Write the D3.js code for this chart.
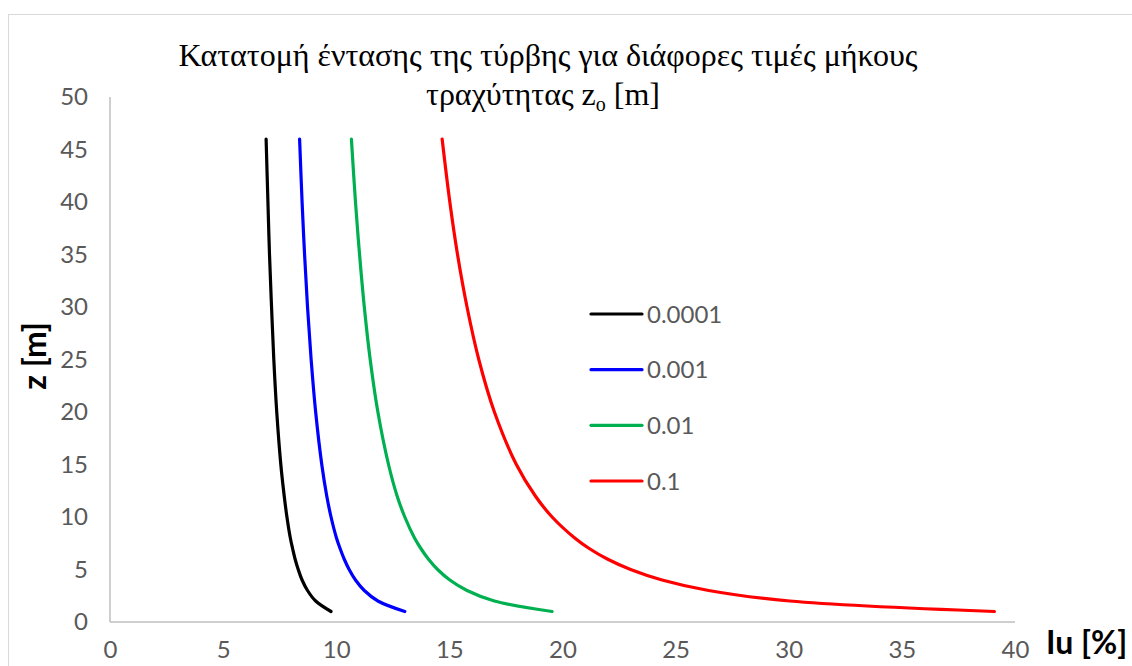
<!DOCTYPE html>
<html><head><meta charset="utf-8">
<script src="https://cdn.jsdelivr.net/npm/d3@7"></script>
<style>body{margin:0;background:#fff;}svg{display:block;}</style>
</head><body>
<svg id="chart" width="1132" height="666"></svg>
<script>
const heights = [1,2,3,4,5,6,7,8,10,12,15,20,25,30,35,40,46];
const iu00001 = [9.77,9.09,8.73,8.49,8.32,8.18,8.07,7.97,7.82,7.70,7.55,7.37,7.24,7.14,7.05,6.98,6.90];
const iu0001  = [13.03,11.84,11.24,10.85,10.57,10.35,10.17,10.01,9.77,9.58,9.36,9.09,8.89,8.73,8.60,8.49,8.38];
const iu001   = [19.54,16.99,15.78,15.02,14.48,14.07,13.74,13.46,13.03,12.69,12.31,11.84,11.50,11.24,11.03,10.85,10.67];
const iu01    = [39.09,30.04,26.46,24.40,23.01,21.98,21.18,20.54,19.54,18.80,17.96,16.99,16.30,15.78,15.36,15.02,14.68];
const seriesNames = ["0.0001","0.001","0.01","0.1"];
const seriesColors = ["#000000","#0000ff","#00b050","#ff0000"];
const xTicks = [0,5,10,15,20,25,30,35,40];
const yTicks = [0,5,10,15,20,25,30,35,40,45,50];
const titleLine1 = "Κατατομή έντασης της τύρβης για διάφορες τιμές μήκους";
const titleLine2 = "τραχύτητας z";
const titleSub = "o";
const titleEnd = " [m]";
const xTitle = "Iu [%]";
const yTitle = "z [m]";

const seriesValues = [iu00001, iu0001, iu001, iu01];
const svg = d3.select("#chart");
const tickFont = "Lato, 'DejaVu Sans', sans-serif";
const tickSize = "24px";
const tickWeight = "400";

// chart area border
svg.append("rect").attr("x",8.5).attr("y",14.5).attr("width",1140).attr("height",670)
  .attr("fill","#fff").attr("stroke","#d9d9d9").attr("stroke-width",1);

const x = d3.scaleLinear().domain([0,40]).range([110,1015]);
const y = d3.scaleLinear().domain([0,50]).range([622,97]);

// axes lines
svg.append("line").attr("x1",x(0)).attr("x2",x(40)).attr("y1",y(0)).attr("y2",y(0))
  .attr("stroke","#bfbfbf").attr("stroke-width",1.5);
svg.append("line").attr("x1",x(0)).attr("x2",x(0)).attr("y1",y(0)).attr("y2",y(50))
  .attr("stroke","#bfbfbf").attr("stroke-width",1.5);

const xAxis = d3.axisBottom(x).tickValues(xTicks).tickSize(0).tickPadding(19).tickFormat(d3.format("d"));
const gx = svg.append("g").attr("transform",`translate(0,${y(0)})`).call(xAxis);
gx.select(".domain").remove();
gx.selectAll("text").attr("fill","#595959").style("font-family",tickFont).style("font-size",tickSize).style("font-weight",tickWeight);

const yAxis = d3.axisLeft(y).tickValues(yTicks).tickSize(0).tickPadding(22).tickFormat(d3.format("d"));
const gy = svg.append("g").attr("transform",`translate(${x(0)},0)`).call(yAxis);
gy.select(".domain").remove();
gy.selectAll("text").attr("fill","#595959").style("font-family",tickFont).style("font-size",tickSize).style("font-weight",tickWeight);

// lines
const line = d3.line().x(d=>x(d[0])).y(d=>y(d[1])).curve(d3.curveCatmullRom.alpha(0.5));
seriesValues.forEach((vals,i)=>{
  const pts = vals.map((v,j)=>[v,heights[j]]);
  svg.append("path").datum(pts).attr("d",line).attr("fill","none")
    .attr("stroke",seriesColors[i]).attr("stroke-width",3.2).attr("stroke-linecap","round").attr("stroke-linejoin","round");
});

// legend
const legY = d3.scalePoint().domain(seriesNames).range([314,481]);
seriesNames.forEach((n,i)=>{
  svg.append("line").attr("x1",591).attr("x2",642).attr("y1",legY(n)).attr("y2",legY(n))
    .attr("stroke",seriesColors[i]).attr("stroke-width",3.2).attr("stroke-linecap","round");
  svg.append("text").attr("x",647).attr("y",legY(n)).attr("dy","0.36em").text(n)
    .attr("fill","#595959").style("font-family",tickFont).style("font-size",tickSize).style("font-weight",tickWeight);
});

// title
const tf = "'Liberation Serif', 'Times New Roman', serif";
svg.append("text").attr("x",548).attr("y",66).attr("text-anchor","middle")
  .style("font-family",tf).style("font-size","32px").attr("fill","#000").text(titleLine1);
const t2 = svg.append("text").attr("x",543).attr("y",105).attr("text-anchor","middle")
  .style("font-family",tf).style("font-size","32px").attr("fill","#000");
t2.append("tspan").text(titleLine2);
t2.append("tspan").attr("dy",6).style("font-size","20px").text(titleSub);
t2.append("tspan").attr("dy",-6).text(titleEnd);

// axis titles
svg.append("text").attr("transform","translate(46,356) rotate(-90)").attr("text-anchor","middle")
  .style("font-family","Lato, 'DejaVu Sans', sans-serif").style("font-weight","bold").style("font-size","32px")
  .attr("fill","#000").text(yTitle);
svg.append("text").attr("x",1046).attr("y",654)
  .style("font-family","Lato, 'DejaVu Sans', sans-serif").style("font-weight","bold").style("font-size","32px")
  .attr("fill","#000").text(xTitle);
</script>
</body></html>
